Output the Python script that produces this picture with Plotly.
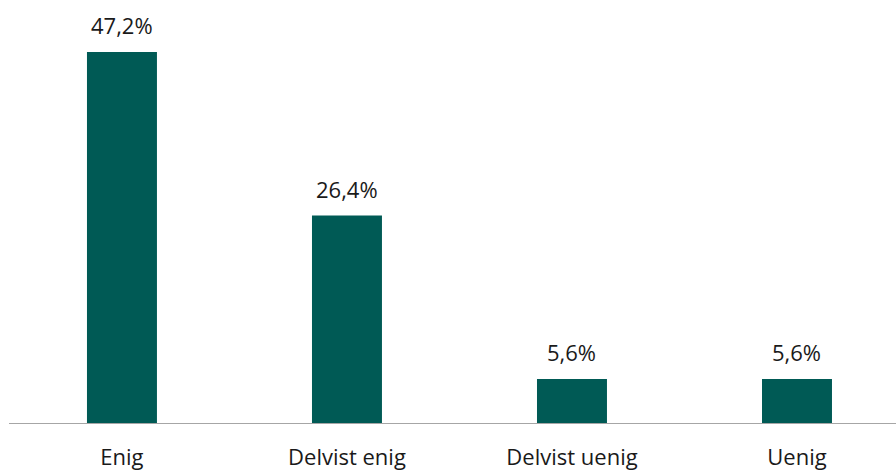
import plotly.graph_objects as go

categories = ["Enig", "Delvist enig", "Delvist uenig", "Uenig"]
values = [47.2, 26.4, 5.6, 5.6]
labels = ["47,2%", "26,4%", "5,6%", "5,6%"]

bar_color = "#005A55"
font_family = "Open Sans, Noto Sans, sans-serif"

fig = go.Figure()
fig.add_trace(go.Bar(
    x=list(range(len(categories))),
    y=values,
    width=0.311,
    marker=dict(color=bar_color, line=dict(width=0)),
    hoverinfo="skip",
))

for i, (v, t) in enumerate(zip(values, labels)):
    fig.add_annotation(
        x=i, y=v, text=t, showarrow=False,
        xanchor="center", yanchor="bottom", yshift=10,
        font=dict(family=font_family, size=22, color="#1a1a1a"),
    )

fig.update_layout(
    width=896, height=471,
    margin=dict(l=9, r=0, t=0, b=48, autoexpand=False),
    paper_bgcolor="white", plot_bgcolor="white",
    showlegend=False,
    font=dict(family=font_family, size=22, color="#1a1a1a"),
    xaxis=dict(
        range=[-0.502, 3.44],
        tickmode="array",
        tickvals=list(range(len(categories))),
        ticktext=categories,
        showline=True, linecolor="#A6A6A6", linewidth=1,
        showgrid=False, zeroline=False,
        ticks="", ticklabelstandoff=15,
        automargin=False,
        fixedrange=True,
    ),
    yaxis=dict(
        range=[0, 53.82],
        visible=False,
        showgrid=False, zeroline=False,
        automargin=False,
        fixedrange=True,
    ),
)

fig.write_html(
    "out.html",
    config={"displayModeBar": False},
    post_script="document.body.style.margin='0';document.body.style.overflow='hidden';",
)
